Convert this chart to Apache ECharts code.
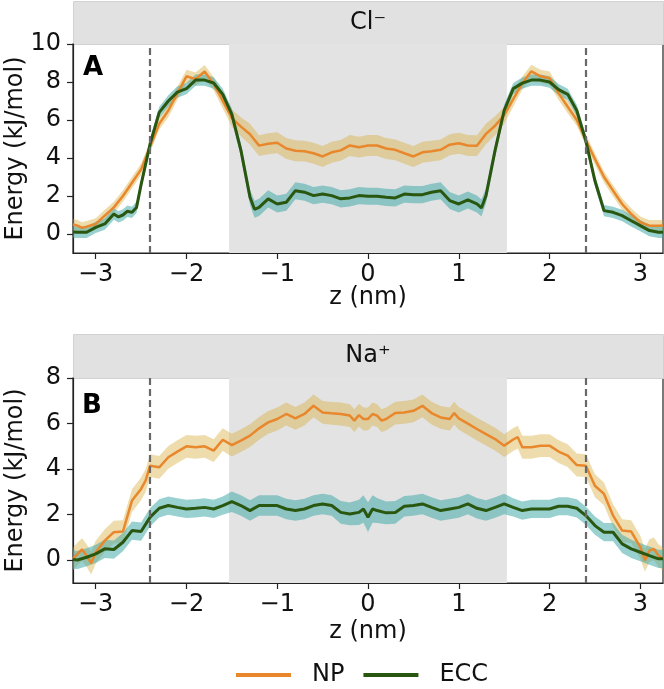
<!DOCTYPE html>
<html>
<head>
<meta charset="utf-8">
<script src="https://cdn.jsdelivr.net/npm/echarts@6/dist/echarts.min.js"></script>
<style>
  html, body { margin: 0; padding: 0; background: #fff; }
  #chart { width: 664px; height: 689px; }
</style>
</head>
<body>
<div id="chart"></div>
<script>
// [z (nm), energy (kJ/mol), band half-width]
var clNP = [
  [-3.25,0.5,0.3],[-3.2,0.44,0.3],[-3.15,0.32,0.3],[-3.1,0.39,0.3],[-3.0,0.53,0.3],[-2.9,0.97,0.3],
  [-2.8,1.4,0.3],[-2.7,2.0,0.3],[-2.6,2.7,0.3],[-2.5,3.4,0.3],[-2.4,4.6,0.3],[-2.3,5.8,0.3],
  [-2.2,6.5,0.35],[-2.1,7.4,0.35],[-2.0,8.3,0.35],[-1.9,8.15,0.35],[-1.8,8.55,0.35],[-1.7,7.9,0.35],
  [-1.6,7.0,0.4],[-1.5,6.1,0.45],[-1.4,5.65,0.5],[-1.3,5.25,0.55],[-1.2,4.65,0.55],[-1.1,4.75,0.55],
  [-1.0,4.8,0.55],[-0.9,4.5,0.55],[-0.8,4.38,0.55],[-0.7,4.36,0.55],[-0.6,4.25,0.55],[-0.5,4.08,0.55],
  [-0.4,4.3,0.55],[-0.3,4.4,0.55],[-0.2,4.66,0.55],[-0.1,4.57,0.55],[0,4.66,0.55],[0.1,4.66,0.55],
  [0.2,4.5,0.55],[0.3,4.43,0.55],[0.4,4.25,0.55],[0.5,4.08,0.55],[0.6,4.3,0.55],[0.7,4.36,0.55],
  [0.8,4.43,0.55],[0.9,4.7,0.55],[1.0,4.78,0.55],[1.1,4.66,0.55],[1.2,4.65,0.55],[1.3,5.27,0.55],
  [1.4,5.7,0.5],[1.5,6.24,0.45],[1.6,7.1,0.4],[1.7,7.94,0.35],[1.8,8.56,0.35],[1.9,8.3,0.35],
  [2.0,8.2,0.35],[2.1,7.4,0.35],[2.2,6.7,0.35],[2.3,6.0,0.3],[2.4,4.95,0.3],[2.5,3.95,0.3],
  [2.6,3.0,0.3],[2.7,2.28,0.3],[2.8,1.58,0.3],[2.9,1.05,0.3],[3.0,0.62,0.3],[3.1,0.44,0.3],
  [3.2,0.44,0.3],[3.25,0.45,0.3]
];
var clECC = [
  [-3.25,0.1,0.3],[-3.2,0.09,0.3],[-3.1,0.09,0.3],[-3.0,0.35,0.3],[-2.9,0.53,0.3],[-2.8,1.05,0.3],
  [-2.75,0.9,0.3],[-2.7,1.0,0.3],[-2.65,1.2,0.3],[-2.6,1.14,0.3],[-2.55,1.4,0.3],[-2.5,2.6,0.3],
  [-2.4,4.75,0.3],[-2.3,6.4,0.3],[-2.2,7.0,0.3],[-2.1,7.47,0.3],[-2.0,7.65,0.3],[-1.9,8.1,0.3],
  [-1.8,8.1,0.3],[-1.7,7.95,0.3],[-1.6,7.35,0.3],[-1.5,6.3,0.3],[-1.4,4.4,0.35],[-1.3,1.93,0.4],
  [-1.25,1.3,0.45],[-1.2,1.4,0.45],[-1.1,1.85,0.45],[-1.0,1.58,0.45],[-0.9,1.67,0.45],[-0.8,2.28,0.45],
  [-0.7,2.2,0.45],[-0.6,2.02,0.45],[-0.5,2.1,0.45],[-0.4,2.02,0.45],[-0.3,1.85,0.45],[-0.2,1.9,0.45],
  [-0.1,2.02,0.45],[0,1.99,0.45],[0.1,1.99,0.45],[0.2,1.93,0.45],[0.3,1.9,0.45],[0.4,2.1,0.45],
  [0.5,2.07,0.45],[0.6,2.07,0.45],[0.7,2.2,0.45],[0.8,2.28,0.45],[0.9,1.76,0.45],[1.0,1.58,0.45],
  [1.1,1.79,0.45],[1.2,1.58,0.45],[1.25,1.37,0.45],[1.3,2.02,0.4],[1.4,4.4,0.35],[1.5,6.5,0.3],
  [1.6,7.65,0.3],[1.7,7.94,0.3],[1.8,8.1,0.3],[1.9,8.1,0.3],[2.0,8.0,0.3],[2.1,7.6,0.3],
  [2.2,7.35,0.3],[2.3,6.5,0.3],[2.4,4.9,0.3],[2.5,2.8,0.3],[2.6,1.23,0.3],[2.7,1.14,0.3],
  [2.8,0.97,0.3],[2.9,0.7,0.3],[3.0,0.44,0.3],[3.1,0.18,0.3],[3.2,0.09,0.3],[3.25,0.09,0.3]
];
var naNP = [
  [-3.25,0.06,0.5],[-3.2,0.28,0.5],[-3.15,0.47,0.5],[-3.1,0.2,0.5],[-3.05,-0.13,0.5],[-3.0,0.35,0.5],
  [-2.9,0.86,0.5],[-2.8,1.23,0.5],[-2.7,1.26,0.5],[-2.6,2.62,0.5],[-2.5,3.13,0.5],[-2.45,3.5,0.5],
  [-2.4,4.15,0.5],[-2.3,4.08,0.5],[-2.2,4.52,0.5],[-2.1,4.77,0.5],[-2.0,5.0,0.5],[-1.9,4.96,0.5],
  [-1.8,5.0,0.5],[-1.7,4.81,0.5],[-1.6,5.29,0.5],[-1.5,5.05,0.5],[-1.4,5.25,0.5],[-1.3,5.47,0.5],
  [-1.2,5.79,0.5],[-1.1,6.05,0.5],[-1.0,6.2,0.5],[-0.9,6.42,0.5],[-0.8,6.23,0.5],[-0.7,6.42,0.5],
  [-0.6,6.78,0.5],[-0.5,6.49,0.5],[-0.4,6.45,0.5],[-0.3,6.42,0.5],[-0.2,6.35,0.5],[-0.15,6.13,0.5],
  [-0.1,6.37,0.5],[-0.05,6.2,0.5],[0,6.2,0.5],[0.05,6.42,0.5],[0.1,6.35,0.5],[0.15,6.13,0.5],
  [0.2,6.2,0.5],[0.3,6.46,0.5],[0.4,6.49,0.5],[0.5,6.56,0.5],[0.6,6.78,0.5],[0.7,6.46,0.5],
  [0.8,6.27,0.5],[0.9,6.2,0.5],[0.95,6.46,0.5],[1.0,6.23,0.5],[1.1,6.0,0.5],[1.2,5.76,0.5],
  [1.3,5.54,0.5],[1.4,5.32,0.5],[1.5,5.03,0.5],[1.6,5.3,0.5],[1.65,5.4,0.5],[1.7,4.96,0.5],
  [1.8,4.96,0.5],[1.9,5.03,0.5],[2.0,5.03,0.5],[2.1,4.77,0.5],[2.2,4.59,0.5],[2.3,4.18,0.5],
  [2.4,4.15,0.5],[2.5,3.27,0.5],[2.6,2.91,0.5],[2.7,1.96,0.5],[2.8,1.3,0.5],[2.9,1.26,0.5],
  [3.0,0.57,0.5],[3.05,-0.01,0.5],[3.1,0.42,0.5],[3.15,0.5,0.5],[3.2,0.2,0.5],[3.25,0.06,0.5]
];
var naECC = [
  [-3.25,0.03,0.4],[-3.2,0.01,0.4],[-3.1,0.13,0.4],[-3.0,0.28,0.4],[-2.9,0.5,0.4],[-2.8,0.47,0.4],
  [-2.7,0.79,0.4],[-2.6,1.3,0.4],[-2.5,1.26,0.4],[-2.4,1.89,0.4],[-2.3,2.28,0.4],[-2.2,2.4,0.4],
  [-2.1,2.32,0.4],[-2.0,2.25,0.4],[-1.9,2.28,0.4],[-1.8,2.32,0.4],[-1.7,2.25,0.4],[-1.6,2.4,0.4],
  [-1.5,2.57,0.45],[-1.4,2.4,0.45],[-1.3,2.18,0.45],[-1.2,2.4,0.45],[-1.1,2.4,0.45],[-1.0,2.4,0.45],
  [-0.9,2.25,0.45],[-0.8,2.18,0.45],[-0.7,2.25,0.45],[-0.6,2.4,0.45],[-0.5,2.47,0.45],[-0.4,2.4,0.45],
  [-0.3,2.1,0.5],[-0.2,2.03,0.5],[-0.1,2.1,0.55],[-0.05,2.25,0.6],[0,1.89,0.65],[0.05,2.25,0.6],
  [0.1,2.18,0.55],[0.2,2.08,0.5],[0.3,2.1,0.5],[0.4,2.37,0.45],[0.5,2.4,0.45],[0.6,2.47,0.45],
  [0.7,2.32,0.45],[0.8,2.18,0.45],[0.9,2.25,0.45],[1.0,2.32,0.45],[1.1,2.47,0.45],[1.2,2.28,0.45],
  [1.3,2.18,0.45],[1.4,2.32,0.45],[1.5,2.47,0.45],[1.6,2.32,0.4],[1.7,2.18,0.4],[1.8,2.25,0.4],
  [1.9,2.25,0.4],[2.0,2.25,0.4],[2.1,2.37,0.4],[2.2,2.37,0.4],[2.3,2.28,0.4],[2.4,1.96,0.4],
  [2.5,1.52,0.4],[2.6,1.23,0.4],[2.7,1.23,0.4],[2.8,0.72,0.4],[2.9,0.5,0.4],[3.0,0.35,0.4],
  [3.1,0.2,0.4],[3.2,0.06,0.4],[3.25,0.06,0.4]
];
var xTicks = [-3, -2, -1, 0, 1, 2, 3];
var yTicksA = [0, 2, 4, 6, 8, 10];
var yTicksB = [0, 2, 4, 6, 8];
var memRegion = [-1.53, 1.53];   // shaded region
var dashPos = [-2.4, 2.4];       // dashed boundaries
var panelTitles = ['Cl\u207B', 'Na\u207A'];

var NP_LINE = '#e8872b', NP_BAND = 'rgba(214,172,60,0.42)';
var ECC_LINE = '#2a5710', ECC_BAND = 'rgba(70,170,170,0.55)';
var FONT = 'DejaVu Sans';

var myChart = echarts.init(document.getElementById('chart'), null, { renderer: 'canvas' });

function minusFmt(v) { return v < 0 ? '\u2212' + Math.abs(v) : String(v); }

function xAxisFor(idx, gap) {
  return {
    type: 'value', gridIndex: idx, min: -3.25, max: 3.25,
    name: 'z (nm)', nameLocation: 'middle', nameGap: gap, nameMoveOverlap: false,
    nameTextStyle: { fontFamily: FONT, fontSize: 24, color: '#111' },
    axisLine: { show: true, onZero: false, lineStyle: { color: '#222', width: 1.2 } },
    axisTick: { show: true, customValues: xTicks, length: 6, lineStyle: { color: '#222', width: 1.2 } },
    axisLabel: { customValues: xTicks, formatter: minusFmt, margin: 10,
      fontFamily: FONT, fontSize: 24, color: '#111' },
    splitLine: { show: false }
  };
}
function yAxisFor(idx, max, ticks) {
  return {
    type: 'value', gridIndex: idx, min: -1, max: max,
    name: 'Energy (kJ/mol)', nameLocation: 'middle', nameGap: 45, nameMoveOverlap: false,
    nameTextStyle: { fontFamily: FONT, fontSize: 24, color: '#111' },
    axisLine: { show: true, onZero: false, lineStyle: { color: '#222', width: 1.2 } },
    axisTick: { show: true, customValues: ticks, length: 6, lineStyle: { color: '#222', width: 1.2 } },
    axisLabel: { customValues: ticks, formatter: minusFmt, margin: 12,
      fontFamily: FONT, fontSize: 24, color: '#111' },
    splitLine: { show: false }
  };
}

// error band drawn as one polygon through the axis coordinate system
function band(pts, color, idx) {
  return {
    type: 'custom', xAxisIndex: idx, yAxisIndex: idx, z: 2, silent: true,
    data: [[0, 0]],
    encode: { x: 0, y: 1 },
    renderItem: function (params, api) {
      var up = pts.map(function (p) { return api.coord([p[0], p[1] + p[2]]); });
      var lo = pts.slice().reverse().map(function (p) { return api.coord([p[0], p[1] - p[2]]); });
      return { type: 'polygon', shape: { points: up.concat(lo) }, style: { fill: color } };
    }
  };
}
function line(name, pts, color, width, idx, withMarks) {
  var s = {
    name: name, type: 'line', xAxisIndex: idx, yAxisIndex: idx, z: 3,
    data: pts.map(function (p) { return [p[0], p[1]]; }),
    showSymbol: false, silent: true,
    lineStyle: { color: color, width: width }, itemStyle: { color: color }
  };
  if (withMarks) {
    s.markArea = { silent: true, z: 1, itemStyle: { color: '#e3e3e3' },
      data: [[{ xAxis: memRegion[0] }, { xAxis: memRegion[1] }]] };
    s.markLine = { silent: true, symbol: 'none', z: 4, label: { show: false },
      lineStyle: { color: '#686868', width: 2.2, type: [7, 4] },
      data: dashPos.map(function (d) { return { xAxis: d }; }) };
  }
  return s;
}

var grids = [
  { left: 73, top: 44, width: 590, height: 209 },
  { left: 73, top: 378, width: 590, height: 205 }
];
var strips = [
  { top: 1, h: 43 }, { top: 334, h: 44 }
];
var graphics = [];
strips.forEach(function (st, i) {
  graphics.push({ type: 'rect', left: 73, top: st.top, z: 0,
    shape: { width: 590, height: st.h },
    style: { fill: '#e1e1e1', stroke: '#d2d2d2', lineWidth: 1 } });
  graphics.push({ type: 'text', x: 368, y: st.top + st.h / 2, z: 10,
    style: { text: panelTitles[i], font: '24px ' + FONT, fill: '#111',
      textAlign: 'center', textVerticalAlign: 'middle' } });
});
graphics.push({ type: 'text', x: 83, y: 68, z: 10,
  style: { text: 'A', font: 'bold 26px ' + FONT, fill: '#000', textVerticalAlign: 'middle' } });
graphics.push({ type: 'text', x: 82, y: 406, z: 10,
  style: { text: 'B', font: 'bold 26px ' + FONT, fill: '#000', textVerticalAlign: 'middle' } });

myChart.setOption({
  animation: false,
  backgroundColor: '#fff',
  grid: grids.map(function (g) {
    return Object.assign({ show: true, borderColor: '#222', borderWidth: 1.2,
      backgroundColor: 'transparent', containLabel: false, outerBoundsMode: 'none' }, g);
  }),
  xAxis: [xAxisFor(0, 33), xAxisFor(1, 37)],
  yAxis: [yAxisFor(0, 10, yTicksA), yAxisFor(1, 8, yTicksB)],
  legend: {
    data: ['NP', 'ECC'], left: 236, bottom: 2, padding: 0, selectedMode: false,
    icon: 'rect', itemWidth: 55, itemHeight: 4, itemGap: 19,
    textStyle: { fontFamily: FONT, fontSize: 24, color: '#111', padding: [0, 0, 0, 16] }
  },
  graphic: graphics,
  series: [
    band(clNP, NP_BAND, 0), band(clECC, ECC_BAND, 0),
    line('NP', clNP, NP_LINE, 2.5, 0, true), line('ECC', clECC, ECC_LINE, 3, 0, false),
    band(naNP, NP_BAND, 1), band(naECC, ECC_BAND, 1),
    line('NP', naNP, NP_LINE, 2.5, 1, true), line('ECC', naECC, ECC_LINE, 3, 1, false)
  ]
});
</script>
</body>
</html>
